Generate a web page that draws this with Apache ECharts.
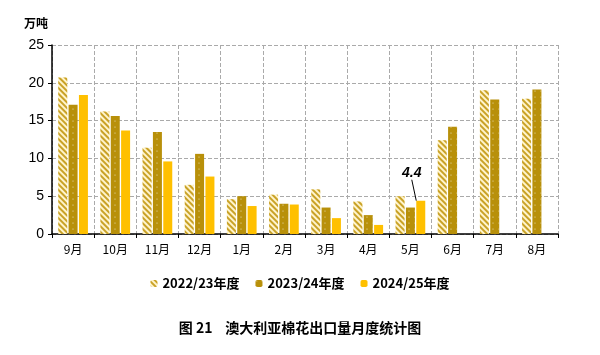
<!DOCTYPE html>
<html><head><meta charset="utf-8">
<script src="https://cdn.jsdelivr.net/npm/echarts@6/dist/echarts.min.js"></script>
<style>html,body{margin:0;padding:0;background:#fff}#c{width:600px;height:355px}</style>
</head><body><div id="c"></div>
<script>
const categories = ['9月','10月','11月','12月','1月','2月','3月','4月','5月','6月','7月','8月'];
const s2022 = [20.7,16.2,11.4,6.5,4.6,5.2,5.9,4.3,5.0,12.4,19.0,17.9];
const s2023 = [17.1,15.6,13.5,10.6,5.0,4.0,3.5,2.5,3.5,14.2,17.8,19.1];
const s2024 = [18.4,13.7,9.6,7.6,3.7,3.9,2.1,1.2,4.4,null,null,null];
const seriesNames = ['2022/23年度','2023/24年度','2024/25年度'];
const labeledIndex = 8;

const chart = echarts.init(document.getElementById('c'));
const data2024 = s2024.map((v,i)=> i===labeledIndex ? {value:v, label:{show:true}} : v);
chart.setOption({
  animation:false,
  grid:{left:52,right:42,top:45,bottom:121},
  title:{text:'图 21    澳大利亚棉花出口量月度统计图', left:'center', top:316, textStyle:{fontSize:14, fontWeight:'bold', fontFamily:'Noto Sans CJK SC', color:'#000'}},
  legend:{data:seriesNames, top:272, left:'center', itemWidth:7, itemHeight:7, itemGap:16, textStyle:{fontSize:13, fontWeight:'bold', fontFamily:'Noto Sans CJK SC', color:'#000'}},
  xAxis:{type:'category', data:categories,
    axisLine:{lineStyle:{color:'#000', width:1.5}},
    axisTick:{show:true, inside:false, length:4, lineStyle:{color:'#000'}},
    axisLabel:{fontSize:12, color:'#000', margin:9, fontFamily:'Noto Sans CJK SC'},
    splitLine:{show:true, lineStyle:{type:'dashed', color:'#aaa'}}},
  yAxis:{type:'value', min:0, max:25, interval:5, name:'万吨', nameLocation:'end', nameGap:16,
    nameTextStyle:{fontSize:12, fontWeight:'bold', color:'#000', align:'right', padding:[0,4,0,0], fontFamily:'Noto Sans CJK SC'},
    axisLine:{show:true, lineStyle:{color:'#000', width:1.5}},
    axisTick:{show:true, length:4, lineStyle:{color:'#000'}},
    axisLabel:{fontSize:14, color:'#000', margin:8, fontFamily:'Arial'},
    splitLine:{show:true, lineStyle:{type:'dashed', color:'#aaa'}}},
  series:[
    {name:seriesNames[0], type:'bar', data:s2022, barWidth:9, barGap:'15%',
      itemStyle:{color:'#FFF4CC', decal:{symbol:'rect', rotation:Math.PI/4, dashArrayX:[1,0], dashArrayY:[2,2], color:'#C9A227'}}},
    {name:seriesNames[1], type:'bar', data:s2023, barWidth:9, barGap:'15%',
      itemStyle:{color:'#B8900A', decal:{symbol:'circle', symbolSize:0.6, dashArrayX:[[2,4]], dashArrayY:[2,4], color:'rgba(255,255,255,0.75)'}}},
    {name:seriesNames[2], type:'bar', data:data2024, barWidth:9, barGap:'15%',
      itemStyle:{color:'#FFC000'},
      label:{show:false, formatter:'{c}', position:'top', fontWeight:'bold', fontStyle:'italic', fontSize:14, fontFamily:'Arial', color:'#000'},
      labelLayout:{dx:-9, dy:-16},
      labelLine:{show:true, length2:0, lineStyle:{color:'#000', width:1}}}
  ]
});
</script></body></html>
